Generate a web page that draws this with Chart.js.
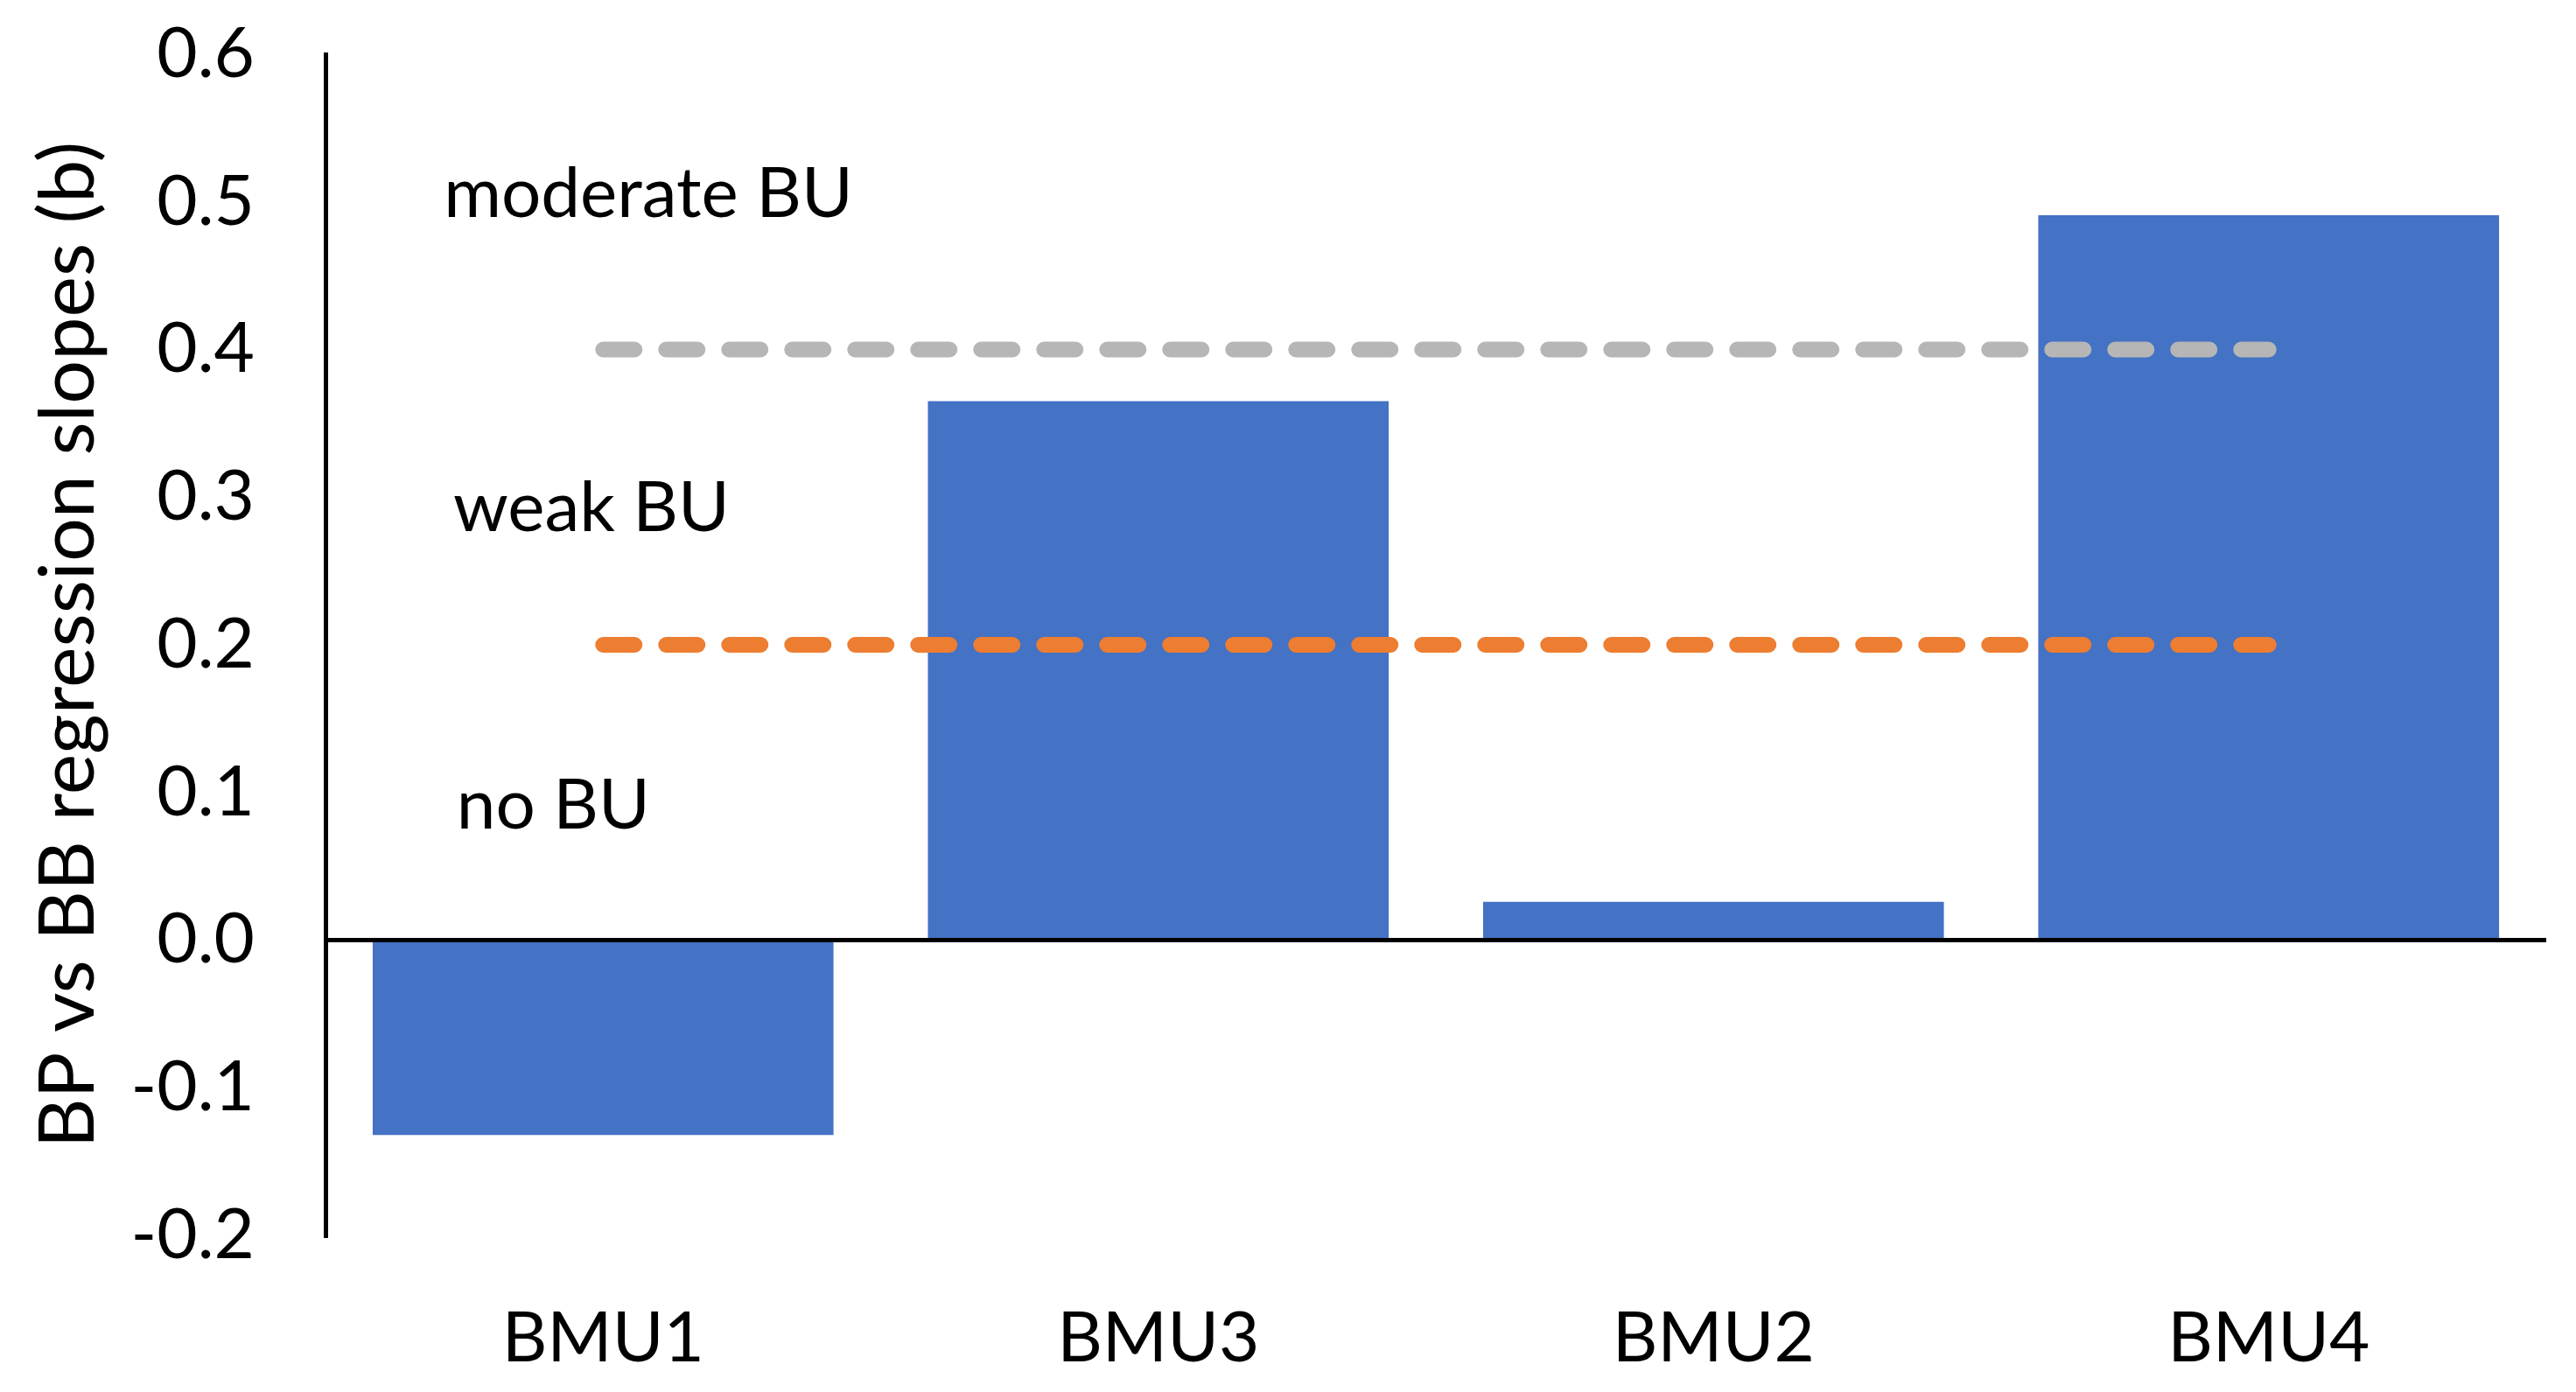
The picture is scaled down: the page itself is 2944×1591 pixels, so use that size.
<!DOCTYPE html>
<html>
<head>
<meta charset="utf-8">
<script src="https://cdn.jsdelivr.net/npm/chart.js@4.4.1/dist/chart.umd.min.js"></script>
<style>
  html, body { margin: 0; padding: 0; background: #fff; }
  #wrap { width: 2944px; height: 1591px; }
</style>
</head>
<body>
<div id="wrap"><canvas id="chart" width="2944" height="1591"></canvas></div>
<script>
// data
const categories = ['BMU1', 'BMU3', 'BMU2', 'BMU4'];
const slopes = [-0.132, 0.365, 0.026, 0.491];
const moderateLine = [0.4, 0.4, 0.4, 0.4];
const weakLine = [0.2, 0.2, 0.2, 0.2];
const zoneLabels = ['moderate BU', 'weak BU', 'no BU'];
const zoneLabelY = [0.505, 0.2925, 0.091];
const zoneLabelX = [-0.287, -0.27, -0.264]; // category-scale units, left edge of text
const yMin = -0.2, yMax = 0.6, yStep = 0.1;

const FONT = 'Lato';
const FONT_SIZE = 80;
Chart.defaults.font.family = FONT;
Chart.defaults.color = '#000';

// text labels for the BU zones
const zoneText = {
  id: 'zoneText',
  afterDatasetsDraw(chart) {
    const { ctx, scales: { x, y } } = chart;
    ctx.save();
    ctx.font = `${FONT_SIZE}px ${FONT}`;
    ctx.fillStyle = '#000';
    ctx.textAlign = 'left';
    ctx.textBaseline = 'middle';
    zoneLabels.forEach((t, i) => {
      ctx.fillText(t, x.getPixelForValue(zoneLabelX[i]), y.getPixelForValue(zoneLabelY[i]));
    });
    ctx.restore();
  }
};

const dashed = (data, color) => ({
  type: 'line', data, borderColor: color, borderWidth: 18,
  borderDash: [36, 36], borderCapStyle: 'round', pointRadius: 0, fill: false, order: 1
});

new Chart(document.getElementById('chart'), {
  type: 'bar',
  data: {
    labels: categories,
    datasets: [
      dashed(moderateLine, '#B6B6B6'),
      dashed(weakLine, '#ED7D31'),
      {
        data: slopes, backgroundColor: '#4472C4', borderWidth: 0,
        categoryPercentage: 1, barPercentage: 0.83, order: 2
      }
    ]
  },
  options: {
    responsive: false,
    animation: false,
    layout: { padding: { top: 62, right: 34, left: 0, bottom: 0 } },
    plugins: { legend: { display: false }, tooltip: { enabled: false } },
    scales: {
      x: {
        grid: { display: false, drawTicks: false },
        border: { display: false },
        ticks: { font: { size: FONT_SIZE }, padding: 70, maxRotation: 0 },
        afterFit: (s) => { s.height = 179; }
      },
      y: {
        min: yMin, max: yMax,
        ticks: { stepSize: yStep, font: { size: FONT_SIZE }, padding: 81, callback: (v) => Number(v).toFixed(1) },
        grid: {
          drawTicks: false, lineWidth: 5,
          color: (c) => (c.tick && Math.abs(c.tick.value) < 1e-9 ? '#000' : 'rgba(0,0,0,0)')
        },
        border: { display: true, color: '#000', width: 5 },
        title: { display: true, text: 'BP vs BB regression slopes (b)', font: { size: 88 }, padding: { top: 26, bottom: 0 } },
        afterFit: (s) => {
          s.width = 372;
          // tick padding would otherwise be added above/below the axis
          s.paddingTop = 48;
          s.paddingBottom = 48;
        }
      }
    }
  },
  plugins: [zoneText]
});
</script>
</body>
</html>
